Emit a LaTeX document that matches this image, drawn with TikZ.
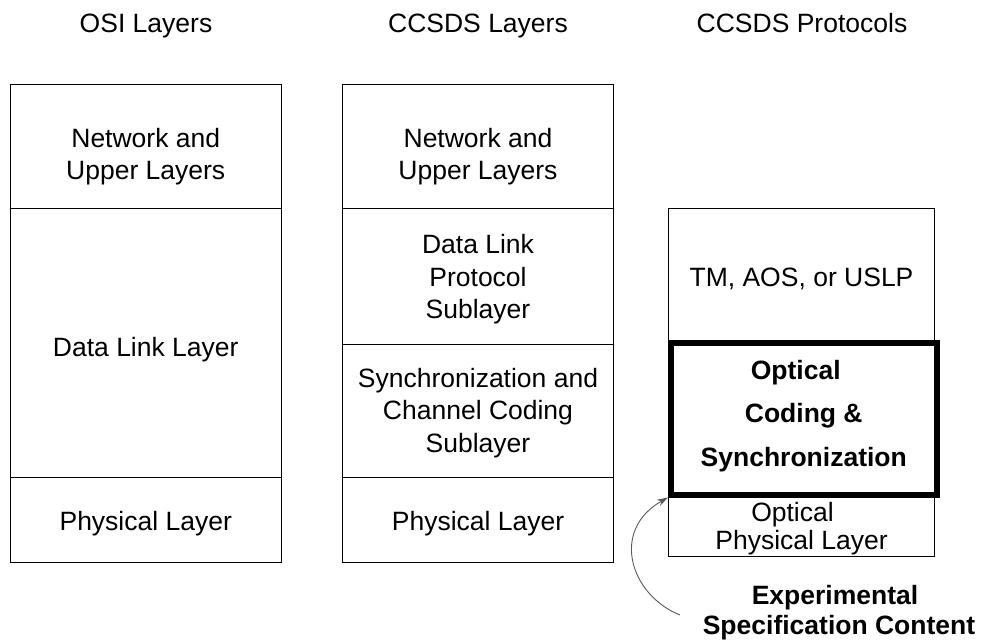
\documentclass[tikz,border=0pt]{standalone}
\usepackage{fontspec}
\setmainfont{Liberation Sans}
\usetikzlibrary{arrows.meta}
\begin{document}
\begin{tikzpicture}[x=1pt,y=-1pt,
  every node/.style={font=\fontsize{26.5}{32.5}\selectfont, inner sep=0pt, align=center},
  cell/.style={draw=black, line width=1pt, anchor=north west},
  thickcell/.style={draw=black, line width=5.5pt, anchor=north west},
  title/.style={anchor=base},
  bold/.style={font=\fontsize{26.5}{43.5}\selectfont\bfseries}
]
\useasboundingbox (0,0) rectangle (987,644);
% titles
\node[title] (t1) at (146,33) {OSI Layers};
\node[title] (t2) at (478,33) {CCSDS Layers};
\node[title] (t3) at (802,33) {CCSDS Protocols};
% OSI column
\node[cell, minimum width=271.5pt, minimum height=124pt] (l1) at (9.5,84) {};
\node[cell, minimum width=271.5pt, minimum height=269pt] (l2) at (9.5,208) {};
\node[cell, minimum width=271.5pt, minimum height=85pt] (l3) at (9.5,477) {};
\node (l1t) at ([yshift=-10pt]l1.center) {Network and\\Upper Layers};
\node (l2t) at ([yshift=-7pt]l2.center) {Data Link Layer};
\node (l3t) at ([yshift=-4pt]l3.center) {Physical Layer};
% CCSDS layers column
\node[cell, minimum width=271pt, minimum height=124pt] (m1) at (342,84) {};
\node[cell, minimum width=271pt, minimum height=136pt] (m2) at (342,208) {};
\node[cell, minimum width=271pt, minimum height=133pt] (m3) at (342,344) {};
\node[cell, minimum width=271pt, minimum height=85pt] (m4) at (342,477) {};
\node (m1t) at ([yshift=-10pt]m1.center) {Network and\\Upper Layers};
\node (m2t) at ([yshift=-3pt]m2.center) {Data Link\\Protocol\\Sublayer};
\node (m3t) at ([yshift=-2pt]m3.center) {Synchronization and\\Channel Coding\\Sublayer};
\node (m4t) at ([yshift=-4pt]m4.center) {Physical Layer};
% CCSDS protocols column
\node[cell, minimum width=266pt, minimum height=132pt] (r1) at (668,208) {};
\node[cell, minimum width=266pt, minimum height=64pt] (r3) at (668,492) {};
\node[thickcell, minimum width=266pt, minimum height=152pt] (r2) at (668,340) {};
\node (r1t) at ([yshift=-4pt]r1.center) {TM, AOS, or USLP};
\node[font=\fontsize{26.5}{27.5}\selectfont] (r3t) at ([yshift=-4pt]r3.center) {Optical\kern18pt\\Physical Layer};
\node[bold] (r2t) at ([yshift=3pt]r2.center) {Optical\kern16pt\\Coding \&\\Synchronization};
% experimental label
\node[font=\fontsize{26.5}{30}\selectfont\bfseries] (exp) at (839,613) {Experimental\kern8pt\\Specification Content};
\coordinate (a0) at (680,615);
\draw[gray!70!black, line width=0.9pt, -{Stealth[length=11pt,width=7pt]}]
  (a0) .. controls (630,595) and (610,530) .. (r2.south west);
\end{tikzpicture}
\end{document}
